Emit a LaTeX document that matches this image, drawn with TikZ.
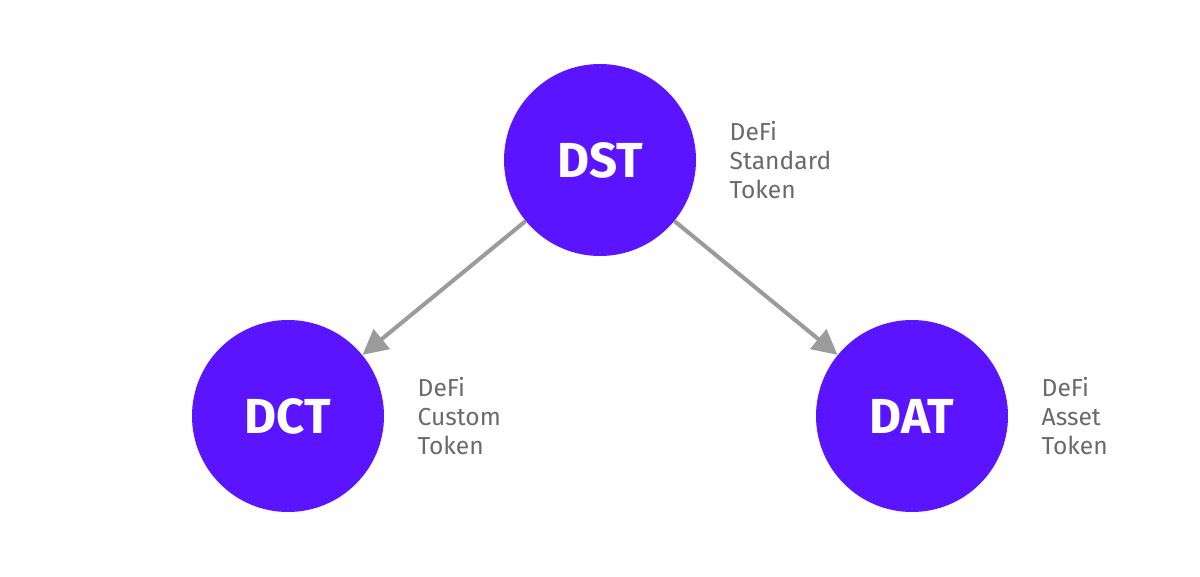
\documentclass[tikz,border=0pt]{standalone}
\usepackage{fontspec}
\setmainfont{Fira Sans}
\usepackage{xcolor}
\usetikzlibrary{arrows.meta,positioning}
\definecolor{tokenpurple}{RGB}{90,20,255}
\definecolor{arrowgray}{RGB}{155,155,155}
\definecolor{labelgray}{RGB}{106,106,106}

\begin{document}
\begin{tikzpicture}[x=1cm,y=1cm,
  token/.style={circle,fill=tokenpurple,minimum size=3.84cm,inner sep=0pt,text=white,font=\fontsize{28}{30}\selectfont\bfseries},
  tokenlabel/.style={align=left,inner sep=0pt,text=labelgray,font=\fontsize{14}{16.5}\selectfont},
  link/.style={draw=arrowgray,line width=2.3pt,-{Triangle[length=0.5cm,width=0.5cm]}}]
  \useasboundingbox (0,0) rectangle (24,11.52);
  \node[token] (dst) at (12,8.32) {DST};
  \node[token] (dct) at (5.76,3.2) {DCT};
  \node[token] (dat) at (18.24,3.2) {DAT};
  \node[tokenlabel,right=0.66cm of dst] (dstlabel) {DeFi\\Standard\\Token};
  \node[tokenlabel,right=0.66cm of dct] (dctlabel) {DeFi\\Custom\\Token};
  \node[tokenlabel,right=0.66cm of dat] (datlabel) {DeFi\\Asset\\Token};
  \draw[link] (dst) -- (dct);
  \draw[link] (dst) -- (dat);
\end{tikzpicture}
\end{document}
